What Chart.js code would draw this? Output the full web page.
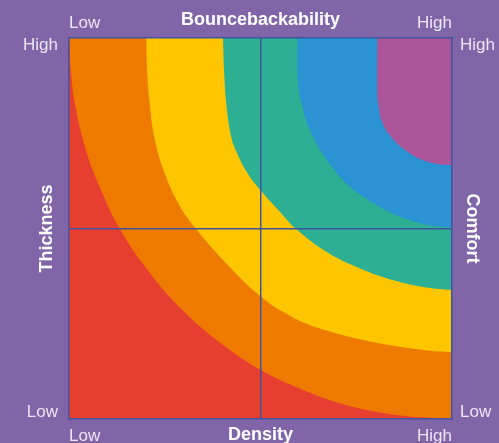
<!DOCTYPE html>
<html>
<head>
<meta charset="utf-8">
<script src="https://cdn.jsdelivr.net/npm/chart.js@4.4.1/dist/chart.umd.min.js"></script>
<style>
  html, body { margin: 0; padding: 0; background: #8065A9; }
  #wrap { width: 499px; height: 443px; }
</style>
</head>
<body>
<div id="wrap"><canvas id="chart"></canvas></div>
<script>
// axis texts
var levels = ['Low', 'High'];
var titleBottom = 'Density';
var titleTop = 'Bouncebackability';
var titleLeft = 'Thickness';
var titleRight = 'Comfort';

// outer edge of every band, from the top edge to the right edge (scale 0..10)
var purpleEdge = [[8.05, 10], [8.05, 8.51], [8.08, 8.25], [8.17, 7.81], [8.43, 7.38], [8.82, 7.03], [9.34, 6.76], [10, 6.66]];
var blueEdge = [[5.97, 10], [5.97, 8.95], [6.08, 8.25], [6.38, 7.38], [6.95, 6.5], [7.38, 6.06], [8.03, 5.62], [8.73, 5.28], [9.34, 5.1], [10, 5.03]];
var tealEdge = [[4.02, 10], [4.05, 9.13], [4.11, 8.25], [4.24, 7.38], [4.41, 6.93], [4.63, 6.5], [4.95, 6.06], [5.54, 5.4], [5.9, 5.01], [6.73, 4.38], [7.6, 3.95], [8.47, 3.64], [9.34, 3.45], [10, 3.39]];
var yellowEdge = [[2.02, 10], [2.04, 9.13], [2.11, 8.25], [2.23, 7.38], [2.48, 6.5], [2.87, 5.63], [3.3, 5.01], [4.07, 4.12], [5.0, 3.22], [5.86, 2.66], [6.73, 2.32], [7.6, 2.09], [8.47, 1.92], [9.34, 1.8], [10, 1.76]];
var orangeEdge = [[0.01, 10], [0.05, 9.13], [0.16, 8.25], [0.44, 7.06], [0.76, 6.19], [1.32, 5.0], [2.12, 3.82], [2.96, 2.86], [3.86, 2.07], [5.0, 1.29], [6.0, 0.81], [7.23, 0.37], [8.46, 0.12], [9.43, 0.03], [10, 0]];

var bandEdges = [purpleEdge, blueEdge, tealEdge, yellowEdge, orangeEdge];
var bandColors = ['#AC5598', '#2B92D3', '#2CAF93', '#FFC600', '#EF7A00'];
var baseColor = '#E73E32';
var lineColor = '#40549F';
var tickColor = '#ECE6F4';

// close an edge round the top-right corner, outside the plot so it is clipped
function closeShape(edge) {
  var first = edge[0];
  var last = edge[edge.length - 1];
  var out = 11;
  return edge.concat([[out, last[1]], [out, out], [first[0], out]]);
}

function levelLabel(value) {
  if (value < 5) return levels[0];
  if (value > 5) return levels[1];
  return '';
}

function midLine(ctx) {
  return ctx.tick && ctx.tick.value === 5 ? lineColor : 'transparent';
}

function yLabelTicks(scale) {
  scale.ticks = [{ value: 0.18 }, { value: 5 }, { value: 9.8 }];
}

const plotBackground = {
  id: 'plotBackground',
  beforeDatasetsDraw(chart) {
    const { ctx, chartArea: a } = chart;
    ctx.save();
    ctx.fillStyle = baseColor;
    ctx.fillRect(a.left, a.top, a.right - a.left, a.bottom - a.top);
    ctx.restore();
  }
};

var tickFont = { family: 'Liberation Sans', size: 17 };
var titleFont = { family: 'Liberation Sans', size: 18, weight: 'bold', lineHeight: 1 };

const config = {
  type: 'scatter',
  data: {
    datasets: bandEdges.map(function (edge, i) {
      return {
        data: closeShape(edge),
        showLine: true,
        fill: 'shape',
        backgroundColor: bandColors[i],
        borderColor: 'transparent',
        borderWidth: 0,
        pointRadius: 0,
        pointHoverRadius: 0,
        tension: 0.4
      };
    })
  },
  options: {
    responsive: true,
    maintainAspectRatio: false,
    animation: false,
    events: [],
    layout: { padding: 0 },
    elements: { line: { capBezierPoints: false } },
    plugins: {
      legend: { display: false },
      tooltip: { enabled: false }
    },
    scales: {
      x: {
        type: 'linear', position: 'bottom', min: 0, max: 10,
        afterFit: function (s) { s.height = 24; },
        ticks: { stepSize: 5, align: 'inner', maxRotation: 0, autoSkip: false, padding: 7, font: tickFont, color: tickColor, callback: levelLabel },
        grid: { color: midLine, lineWidth: 1.5, drawTicks: false, z: 1 },
        border: { color: lineColor, width: 1.5, z: 1 },
        title: { display: true, text: titleBottom, color: '#FFFFFF', font: titleFont, padding: { top: 0, bottom: -1 } }
      },
      x2: {
        type: 'linear', position: 'top', min: 0, max: 10,
        afterFit: function (s) { s.height = 38; },
        ticks: { stepSize: 5, align: 'inner', maxRotation: 0, autoSkip: false, padding: 4, font: tickFont, color: tickColor, callback: levelLabel },
        grid: { color: 'transparent', drawTicks: false },
        border: { color: lineColor, width: 1.5, z: 1 },
        title: { display: true, text: titleTop, color: '#FFFFFF', font: titleFont, padding: { top: 11, bottom: 0 } }
      },
      y: {
        type: 'linear', position: 'left', min: 0, max: 10,
        afterFit: function (s) { s.width = 69; },
        afterBuildTicks: yLabelTicks,
        ticks: { autoSkip: false, padding: 11, font: tickFont, color: tickColor, callback: levelLabel },
        grid: { color: midLine, lineWidth: 1.5, drawTicks: false, z: 1 },
        border: { color: lineColor, width: 1.5, z: 1 },
        title: { display: true, text: titleLeft, color: '#FFFFFF', font: titleFont, padding: { top: 38, bottom: 0 } }
      },
      y2: {
        type: 'linear', position: 'right', min: 0, max: 10,
        afterFit: function (s) { s.width = 47; },
        afterBuildTicks: yLabelTicks,
        ticks: { autoSkip: false, padding: 8, font: tickFont, color: tickColor, callback: levelLabel },
        grid: { color: 'transparent', drawTicks: false },
        border: { color: lineColor, width: 1.5, z: 1 },
        title: { display: true, text: titleRight, color: '#FFFFFF', font: titleFont, padding: { top: 18, bottom: 0 } }
      }
    }
  },
  plugins: [plotBackground]
};

const chart = new Chart(document.getElementById('chart'), config);
</script>
</body>
</html>
